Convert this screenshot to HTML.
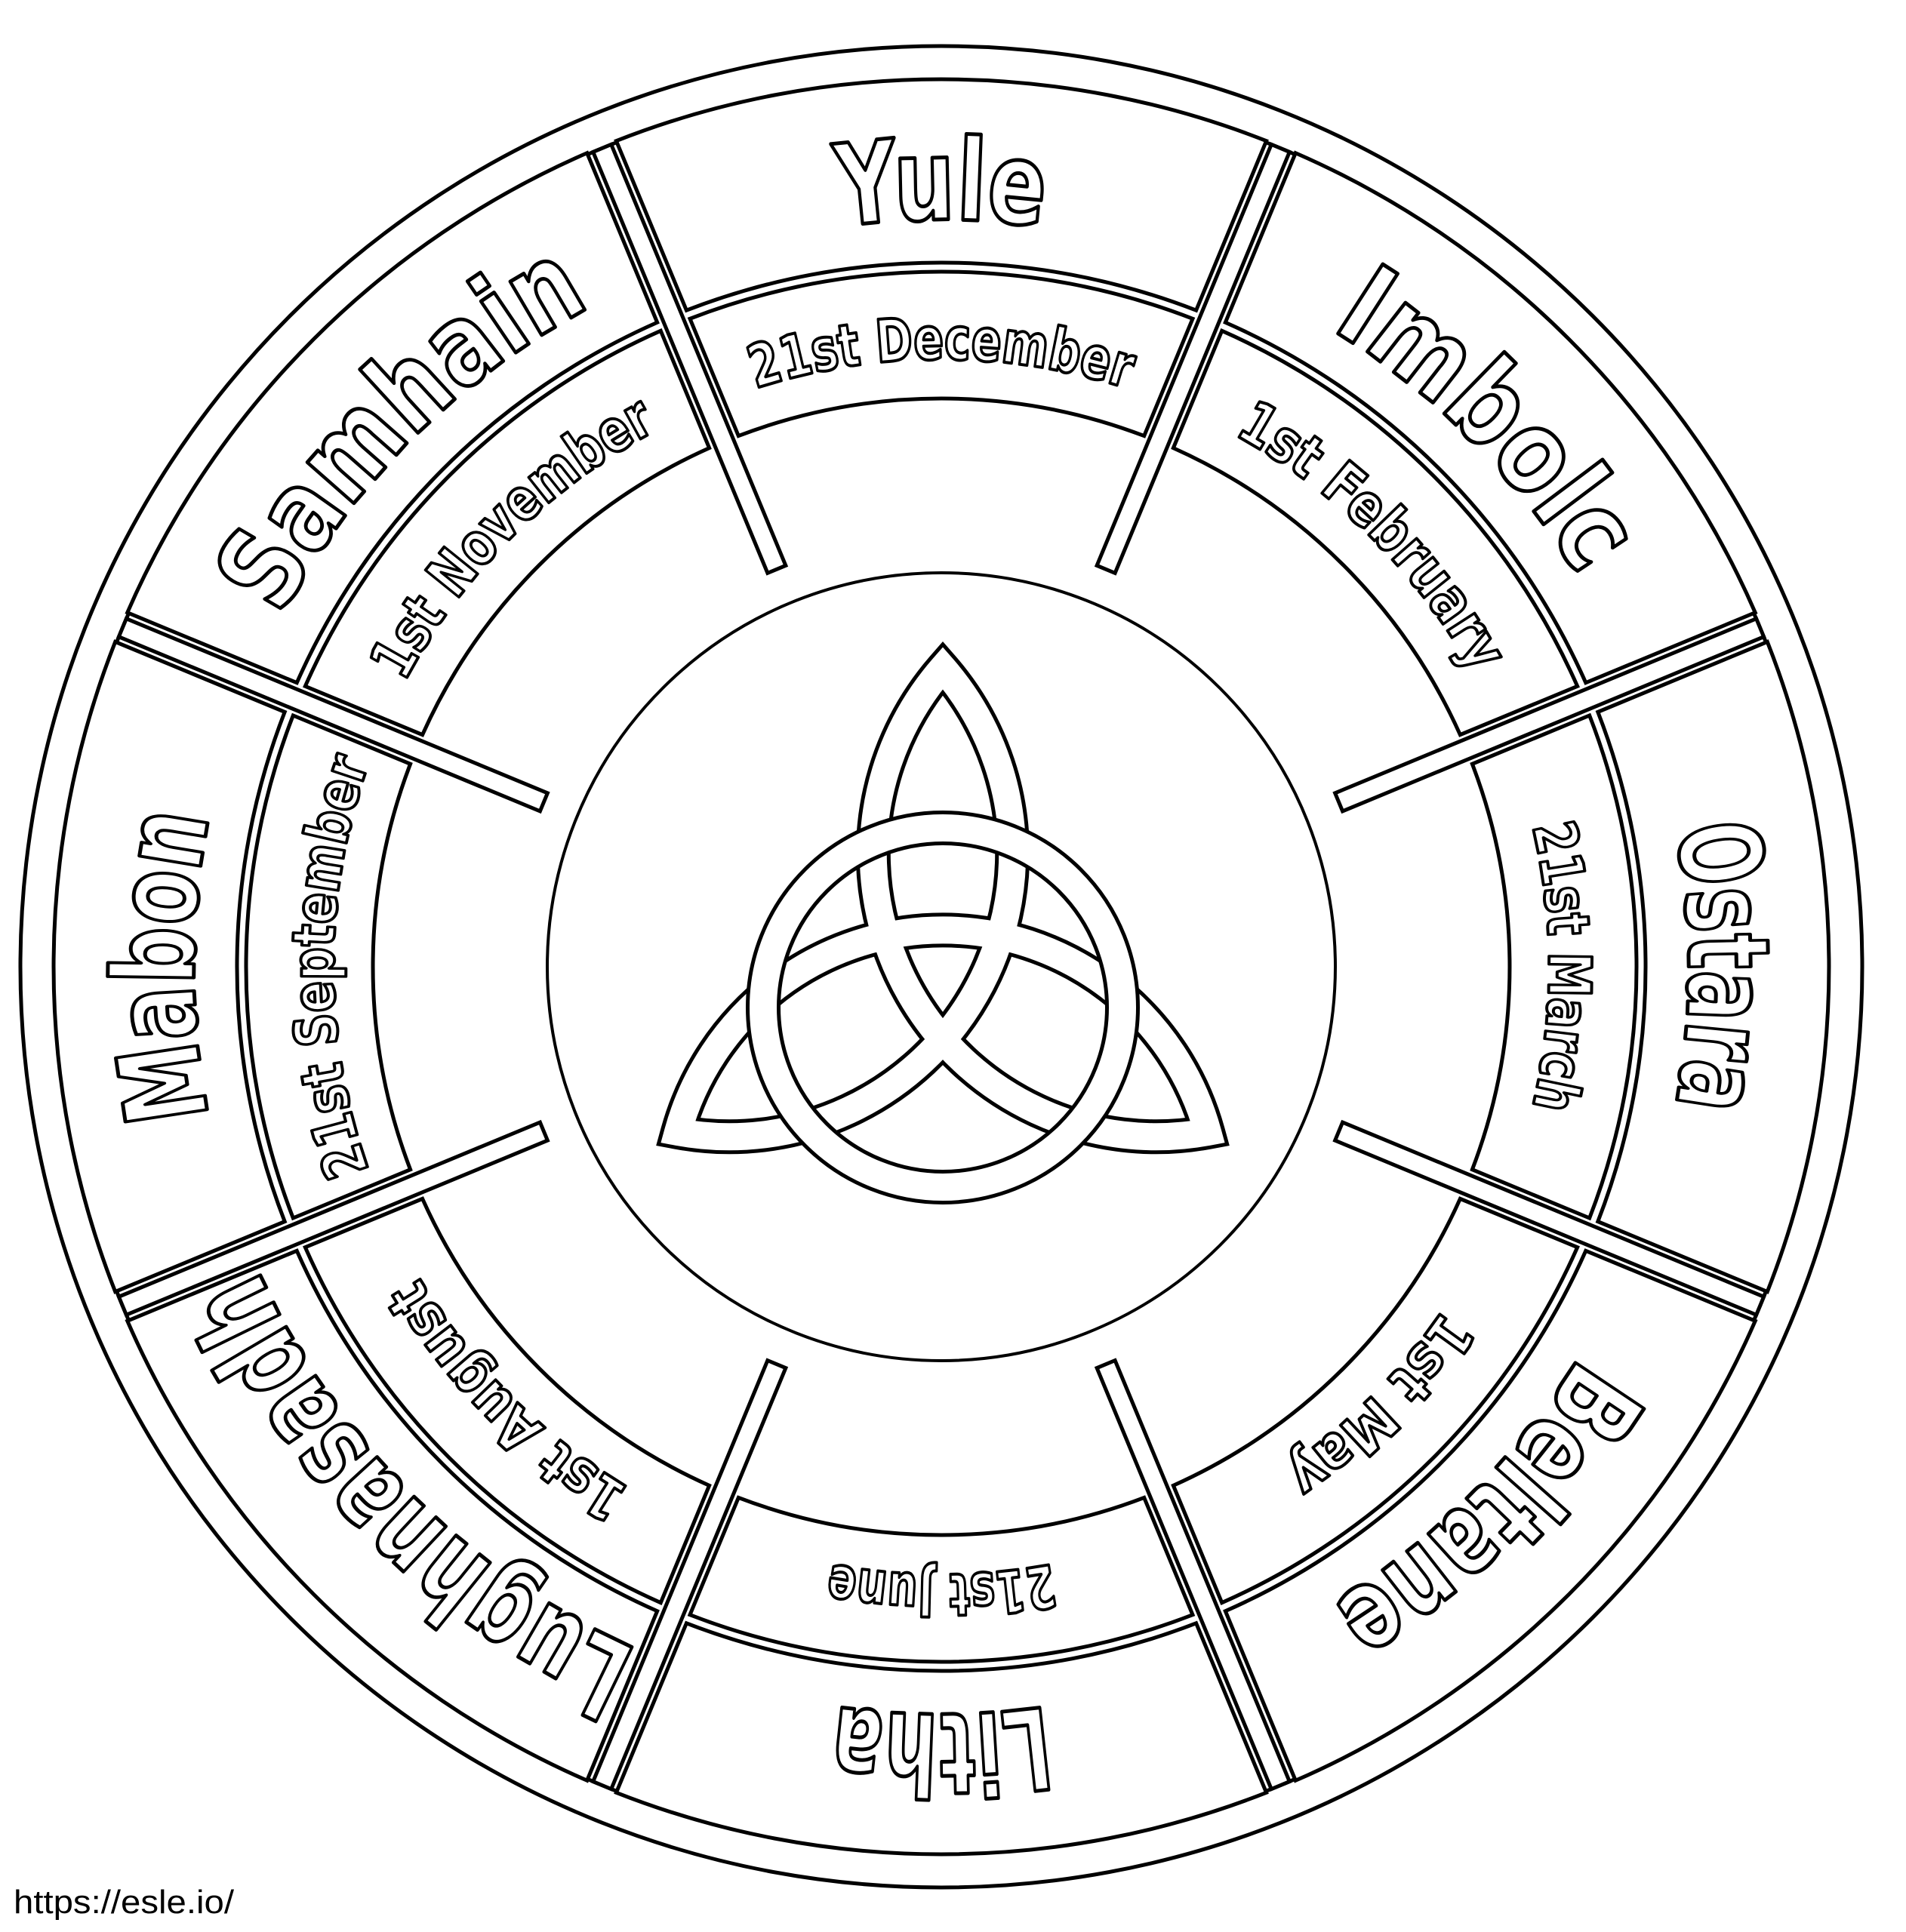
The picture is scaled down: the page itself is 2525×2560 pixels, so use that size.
<!DOCTYPE html>
<html><head><meta charset="utf-8">
<style>
html,body{margin:0;padding:0;background:#fff;}
svg{display:block;}
.nm{font-family:"DejaVu Sans Condensed","Liberation Sans Narrow","Liberation Sans",sans-serif;font-weight:bold;font-size:150px;fill:#fff;stroke:#000;stroke-width:5;stroke-linejoin:round;}
.dt{font-family:"DejaVu Sans Condensed","Liberation Sans Narrow","Liberation Sans",sans-serif;font-weight:bold;font-size:78px;fill:#fff;stroke:#000;stroke-width:4;stroke-linejoin:round;}
</style></head>
<body>
<svg width="2525" height="2560" viewBox="0 0 2525 2560" xmlns="http://www.w3.org/2000/svg">
<rect width="2525" height="2560" fill="#fff"/>
<defs>
<path id="n" d="M -379,-914.6 A990 990 0 0 1 379,-914.6"/>
<path id="d" d="M -308,-743.7 A805 805 0 0 1 308,-743.7"/>
</defs>
<g transform="translate(1247,1281)" fill="none" stroke="#000" stroke-width="5">
<circle r="1220"/>
<circle r="1174"/>
<g id="segs">
<g transform="rotate(0)">
<path fill="#fff" d="M -430.6,-1094.3 A1176 1176 0 0 1 430.6,-1094.3 L 337.6,-869.8 A933 933 0 0 0 -337.6,-869.8 Z"/>
<path fill="#fff" d="M -333,-858.7 A921 921 0 0 1 333,-858.7 L 268.7,-703.4 A753 753 0 0 0 -268.7,-703.4 Z"/>
<text class="nm" text-anchor="middle"><textPath href="#n" startOffset="50%" textLength="270" lengthAdjust="spacingAndGlyphs">Yule</textPath></text>
<text class="dt" text-anchor="middle"><textPath href="#d" startOffset="50%" textLength="500" lengthAdjust="spacingAndGlyphs">21st December</textPath></text>
</g>
<g transform="rotate(45)">
<path fill="#fff" d="M -430.6,-1094.3 A1176 1176 0 0 1 430.6,-1094.3 L 337.6,-869.8 A933 933 0 0 0 -337.6,-869.8 Z"/>
<path fill="#fff" d="M -333,-858.7 A921 921 0 0 1 333,-858.7 L 268.7,-703.4 A753 753 0 0 0 -268.7,-703.4 Z"/>
<text class="nm" text-anchor="middle"><textPath href="#n" startOffset="50%" textLength="470" lengthAdjust="spacingAndGlyphs">Imbolc</textPath></text>
<text class="dt" text-anchor="middle"><textPath href="#d" startOffset="50%" textLength="455" lengthAdjust="spacingAndGlyphs">1st February</textPath></text>
</g>
<g transform="rotate(90)">
<path fill="#fff" d="M -430.6,-1094.3 A1176 1176 0 0 1 430.6,-1094.3 L 337.6,-869.8 A933 933 0 0 0 -337.6,-869.8 Z"/>
<path fill="#fff" d="M -333,-858.7 A921 921 0 0 1 333,-858.7 L 268.7,-703.4 A753 753 0 0 0 -268.7,-703.4 Z"/>
<text class="nm" text-anchor="middle"><textPath href="#n" startOffset="50%" textLength="370" lengthAdjust="spacingAndGlyphs">Ostara</textPath></text>
<text class="dt" text-anchor="middle"><textPath href="#d" startOffset="50%" textLength="375" lengthAdjust="spacingAndGlyphs">21st March</textPath></text>
</g>
<g transform="rotate(135)">
<path fill="#fff" d="M -430.6,-1094.3 A1176 1176 0 0 1 430.6,-1094.3 L 337.6,-869.8 A933 933 0 0 0 -337.6,-869.8 Z"/>
<path fill="#fff" d="M -333,-858.7 A921 921 0 0 1 333,-858.7 L 268.7,-703.4 A753 753 0 0 0 -268.7,-703.4 Z"/>
<text class="nm" text-anchor="middle"><textPath href="#n" startOffset="50%" textLength="470" lengthAdjust="spacingAndGlyphs">Beltane</textPath></text>
<text class="dt" text-anchor="middle"><textPath href="#d" startOffset="50%" textLength="300" lengthAdjust="spacingAndGlyphs">1st May</textPath></text>
</g>
<g transform="rotate(180)">
<path fill="#fff" d="M -430.6,-1094.3 A1176 1176 0 0 1 430.6,-1094.3 L 337.6,-869.8 A933 933 0 0 0 -337.6,-869.8 Z"/>
<path fill="#fff" d="M -333,-858.7 A921 921 0 0 1 333,-858.7 L 268.7,-703.4 A753 753 0 0 0 -268.7,-703.4 Z"/>
<text class="nm" text-anchor="middle"><textPath href="#n" startOffset="50%" textLength="280" lengthAdjust="spacingAndGlyphs">Litha</textPath></text>
<text class="dt" text-anchor="middle"><textPath href="#d" startOffset="50%" textLength="295" lengthAdjust="spacingAndGlyphs">21st June</textPath></text>
</g>
<g transform="rotate(225)">
<path fill="#fff" d="M -430.6,-1094.3 A1176 1176 0 0 1 430.6,-1094.3 L 337.6,-869.8 A933 933 0 0 0 -337.6,-869.8 Z"/>
<path fill="#fff" d="M -333,-858.7 A921 921 0 0 1 333,-858.7 L 268.7,-703.4 A753 753 0 0 0 -268.7,-703.4 Z"/>
<text class="nm" text-anchor="middle"><textPath href="#n" startOffset="50%" textLength="730" lengthAdjust="spacingAndGlyphs">Lughnasadh</textPath></text>
<text class="dt" text-anchor="middle"><textPath href="#d" startOffset="50%" textLength="400" lengthAdjust="spacingAndGlyphs">1st August</textPath></text>
</g>
<g transform="rotate(270)">
<path fill="#fff" d="M -430.6,-1094.3 A1176 1176 0 0 1 430.6,-1094.3 L 337.6,-869.8 A933 933 0 0 0 -337.6,-869.8 Z"/>
<path fill="#fff" d="M -333,-858.7 A921 921 0 0 1 333,-858.7 L 268.7,-703.4 A753 753 0 0 0 -268.7,-703.4 Z"/>
<text class="nm" text-anchor="middle"><textPath href="#n" startOffset="50%" textLength="400" lengthAdjust="spacingAndGlyphs">Mabon</textPath></text>
<text class="dt" text-anchor="middle"><textPath href="#d" startOffset="50%" textLength="550" lengthAdjust="spacingAndGlyphs">21st September</textPath></text>
</g>
<g transform="rotate(315)">
<path fill="#fff" d="M -430.6,-1094.3 A1176 1176 0 0 1 430.6,-1094.3 L 337.6,-869.8 A933 933 0 0 0 -337.6,-869.8 Z"/>
<path fill="#fff" d="M -333,-858.7 A921 921 0 0 1 333,-858.7 L 268.7,-703.4 A753 753 0 0 0 -268.7,-703.4 Z"/>
<text class="nm" text-anchor="middle"><textPath href="#n" startOffset="50%" textLength="590" lengthAdjust="spacingAndGlyphs">Samhain</textPath></text>
<text class="dt" text-anchor="middle"><textPath href="#d" startOffset="50%" textLength="480" lengthAdjust="spacingAndGlyphs">1st November</textPath></text>
</g>
</g>
<g fill="#fff">
<rect x="-13" y="-1174" width="26" height="604" transform="rotate(22.5)"/>
<rect x="-13" y="-1174" width="26" height="604" transform="rotate(67.5)"/>
<rect x="-13" y="-1174" width="26" height="604" transform="rotate(112.5)"/>
<rect x="-13" y="-1174" width="26" height="604" transform="rotate(157.5)"/>
<rect x="-13" y="-1174" width="26" height="604" transform="rotate(202.5)"/>
<rect x="-13" y="-1174" width="26" height="604" transform="rotate(247.5)"/>
<rect x="-13" y="-1174" width="26" height="604" transform="rotate(292.5)"/>
<rect x="-13" y="-1174" width="26" height="604" transform="rotate(337.5)"/>
</g>
<circle r="522" stroke-width="4"/>
</g>
<!-- triquetra -->
<g fill="none" stroke-linejoin="miter" stroke-miterlimit="30">
<path d="M1249,885 A375 375 0 0 0 1600,1500 A364 364 0 0 0 898,1500 A375 375 0 0 0 1249,885 Z" stroke="#000" stroke-width="46"/>
<path d="M1249,885 A375 375 0 0 0 1600,1500 A364 364 0 0 0 898,1500 A375 375 0 0 0 1249,885 Z" stroke="#fff" stroke-width="36"/>
<circle cx="1249" cy="1335" r="238" stroke="#000" stroke-width="46"/>
<circle cx="1249" cy="1335" r="238" stroke="#fff" stroke-width="36"/>
</g>
<text x="18" y="2535" font-family="'Liberation Sans',sans-serif" font-size="44" fill="#000" textLength="292" lengthAdjust="spacingAndGlyphs">https://esle.io/</text>
</svg>
</body></html>
